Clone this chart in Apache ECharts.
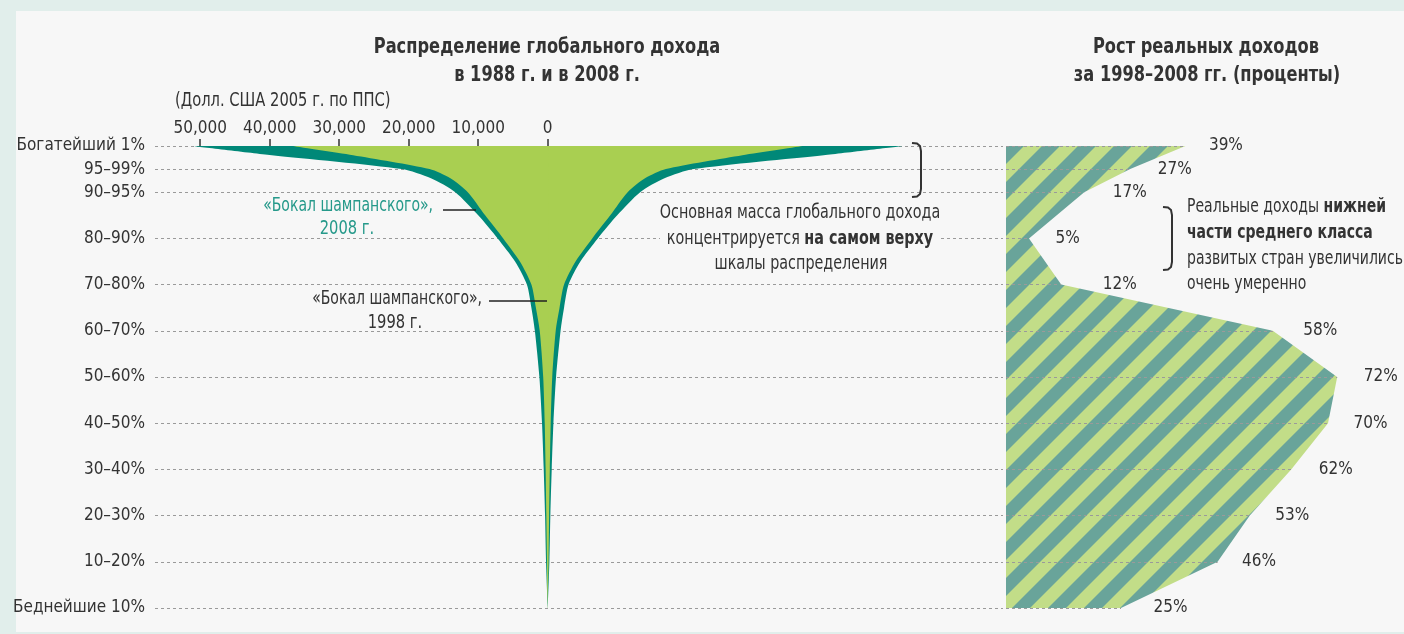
<!DOCTYPE html>
<html>
<head>
<meta charset="utf-8">
<title>Глобальный доход</title>
<script src="https://cdn.jsdelivr.net/npm/echarts@6.0.0/dist/echarts.min.js"></script>
<style>
  html, body { margin: 0; padding: 0; background: #e1eeeb; }
  #panel { position: absolute; left: 16px; top: 11px; width: 1388px; height: 621px; background: #f7f7f7; }
  #chart { position: absolute; left: 0; top: 0; width: 1404px; height: 634px; }
</style>
</head>
<body>
<div id="panel"></div>
<div id="chart"></div>
<script>
// строки шкалы: процентиль (нижняя граница группы) и подпись
const rowPct = [100, 95, 90, 80, 70, 60, 50, 40, 30, 20, 10, 0];
const rowLabels = ['Богатейший 1%', '95–99%', '90–95%', '80–90%', '70–80%', '60–70%',
  '50–60%', '40–50%', '30–40%', '20–30%', '10–20%', 'Беднейшие 10%'];

// рост реальных доходов 1998–2008, %
const growth = [39, 27, 17, 5, 12, 58, 72, 70, 62, 53, 46, 25];

// «бокал»: половина ширины по процентилям, долл. США 2005 г. по ППС
const glassPct = [100, 98, 95, 93, 90, 85, 80, 75, 70, 65, 60, 50, 40, 30, 20, 10, 0];
const glass2008 = [51100, 39700, 21000, 16800, 13300, 10000, 7200, 4700, 3000, 2350, 1850, 1200, 820, 575, 380, 240, 0];
const glass1998 = [36700, 28000, 17000, 14000, 11500, 9000, 6400, 4000, 2350, 1700, 1150, 650, 430, 300, 200, 100, 0];

// деления верхней шкалы
const incomeTicks = [-50000, -40000, -30000, -20000, -10000, 0];

// отступы подписей процентов справа от точки
const growthLabelGap = [23, 27, 28, 26, 41, 30, 26, 25, 27, 25, 24, 32];

const F = '"Liberation Sans Narrow", "DejaVu Sans Condensed", "Arial Narrow", sans-serif';
const TXT = '#333';
const SX = 0.86; // сжатие графических подписей по ширине
const cats = Array.from({length: 101}, (_, i) => String(i));

function stripes() {
  const P = 36, c = document.createElement('canvas');
  c.width = P; c.height = P;
  const g = c.getContext('2d');
  g.fillStyle = '#c2dd88';
  g.fillRect(0, 0, P, P);
  g.fillStyle = '#69a49a';
  for (let k = 0; k <= 2; k++) {
    const o = k * P;
    g.beginPath();
    g.moveTo(o, 0); g.lineTo(o + P / 2, 0); g.lineTo(o + P / 2 - P, P); g.lineTo(o - P, P);
    g.closePath(); g.fill();
  }
  return c;
}

// половина бокала; origin чуть заходит за ноль, чтобы не было шва по центру
function glassSide(vals, sign, color, z) {
  return {
    type: 'line', xAxisIndex: 0, yAxisIndex: 0,
    data: glassPct.map((p, i) => [sign * vals[i], p]),
    smooth: 0.25, showSymbol: false, silent: true, z: z,
    lineStyle: {width: 0},
    areaStyle: {color: color, opacity: 1, origin: -sign * 80}
  };
}

function txt(x, y, text, o, sx) {
  o = o || {};
  return {
    type: 'text', x: x, y: y, z: 100, silent: true, scaleX: sx || SX,
    style: Object.assign({
      text: text, fontFamily: F, fontSize: 19, fill: TXT,
      align: 'center', textAlign: 'center', verticalAlign: 'middle', textVerticalAlign: 'middle'
    }, o)
  };
}

function bracket(x, y1, y2) {
  return {
    type: 'polyline', z: 100, silent: true,
    shape: {points: [[x - 9, y1], [x - 4, y1 + 0.5], [x - 1, y1 + 3], [x, y1 + 8],
      [x, y2 - 8], [x - 1, y2 - 3], [x - 4, y2 - 0.5], [x - 9, y2]]},
    style: {stroke: '#333', lineWidth: 2, fill: null}
  };
}

const rich = {
  r: {fontFamily: F, fontSize: 19, fill: TXT},
  b: {fontFamily: F, fontSize: 19, fontWeight: 'bold', fill: TXT}
};
const LEFT = {align: 'left', textAlign: 'left'};

const chart = echarts.init(document.getElementById('chart'));

const option = {
  animation: false,
  textStyle: {fontFamily: F},
  grid: [
    {left: 155, right: 401, top: 146, bottom: 26, containLabel: false, outerBoundsMode: 'none'},
    {left: 1006, right: 30, top: 146, bottom: 26, containLabel: false, outerBoundsMode: 'none'}
  ],
  xAxis: [
    {
      gridIndex: 0, type: 'value', position: 'top', min: -56500, max: 65500,
      axisLine: {show: false}, splitLine: {show: false},
      axisTick: {show: true, length: 7, customValues: incomeTicks, lineStyle: {color: TXT, width: 1.5}},
      axisLabel: {
        customValues: incomeTicks, margin: 9, fontSize: 17, color: TXT, fontFamily: F,
        formatter: v => Math.abs(v).toLocaleString('en-US')
      }
    },
    {gridIndex: 1, type: 'value', min: 0, max: 80, show: false}
  ],
  yAxis: [
    {
      gridIndex: 0, type: 'category', data: cats, boundaryGap: false,
      axisLine: {show: false}, axisTick: {show: false},
      axisLabel: {
        interval: i => rowPct.includes(i), margin: 10, fontSize: 17, color: TXT, fontFamily: F,
        formatter: v => rowLabels[rowPct.indexOf(+v)]
      },
      splitLine: {
        show: true, interval: i => rowPct.includes(i),
        lineStyle: {color: '#9a9a9a', type: [3, 3], width: 1}
      }
    },
    {gridIndex: 1, type: 'category', data: cats, boundaryGap: false, show: false}
  ],
  series: [
    glassSide(glass2008, 1, '#008878', 2),
    glassSide(glass2008, -1, '#008878', 2),
    glassSide(glass1998, 1, '#a9cf51', 3),
    glassSide(glass1998, -1, '#a9cf51', 3),
    {
      type: 'line', xAxisIndex: 1, yAxisIndex: 1, silent: true,
      data: growth.map((g, i) => ({value: [g, rowPct[i]], label: {distance: growthLabelGap[i]}})),
      symbol: 'circle', symbolSize: 1, showSymbol: true,
      itemStyle: {color: 'rgba(0,0,0,0)'},
      lineStyle: {width: 0},
      areaStyle: {color: {image: stripes(), repeat: 'repeat'}, opacity: 1},
      label: {
        show: true, position: 'right', fontSize: 17, color: TXT, fontFamily: F,
        formatter: p => p.value[0] + '%'
      },
      markLine: {
        silent: true, symbol: 'none', label: {show: false},
        lineStyle: {color: '#9a9a9a', type: [3, 3], width: 1},
        data: growth.map((g, i) => [{coord: [0, rowPct[i]]}, {coord: [g, rowPct[i]]}])
      }
    }
  ],
  graphic: [
    txt(547, 48, 'Распределение глобального дохода', {fontWeight: 'bold', fontSize: 21}),
    txt(547, 76, 'в 1988 г. и в 2008 г.', {fontWeight: 'bold', fontSize: 21}),
    txt(1206, 48, 'Рост реальных доходов', {fontWeight: 'bold', fontSize: 21}),
    txt(1207, 76, 'за 1998–2008 гг. (проценты)', {fontWeight: 'bold', fontSize: 21}),
    txt(175, 101, '(Долл. США 2005 г. по ППС)', LEFT),

    txt(433, 206, '«Бокал шампанского»,', {align: 'right', textAlign: 'right', fill: '#25998a'}, 0.82),
    txt(347, 229, '2008 г.', {fill: '#25998a'}),
    {type: 'line', z: 100, silent: true, shape: {x1: 443, y1: 210, x2: 476, y2: 210}, style: {stroke: '#222', lineWidth: 1.5}},
    txt(482, 299, '«Бокал шампанского»,', {align: 'right', textAlign: 'right'}, 0.82),
    txt(395, 323, '1998 г.'),
    {type: 'line', z: 100, silent: true, shape: {x1: 489, y1: 301, x2: 547, y2: 301}, style: {stroke: '#222', lineWidth: 1.5}},

    bracket(921, 143, 197),
    {type: 'rect', z: 99, silent: true, shape: {x: 660, y: 228, width: 278, height: 22}, style: {fill: '#f7f7f7'}},
    txt(800, 213, 'Основная масса глобального дохода', null, 0.84),
    txt(800, 239, '{r|концентрируется }{b|на самом верху}', {rich: rich}, 0.84),
    txt(801, 264, 'шкалы распределения', null, 0.84),

    bracket(1172, 207, 270),
    txt(1187, 207, '{r|Реальные доходы }{b|нижней}', Object.assign({rich: rich}, LEFT), 0.82),
    txt(1187, 233, '{b|части среднего класса}', Object.assign({rich: rich}, LEFT), 0.82),
    txt(1187, 259, 'развитых стран увеличились', LEFT, 0.82),
    txt(1187, 284, 'очень умеренно', LEFT, 0.82)
  ]
};

chart.setOption(option);
</script>
</body>
</html>
